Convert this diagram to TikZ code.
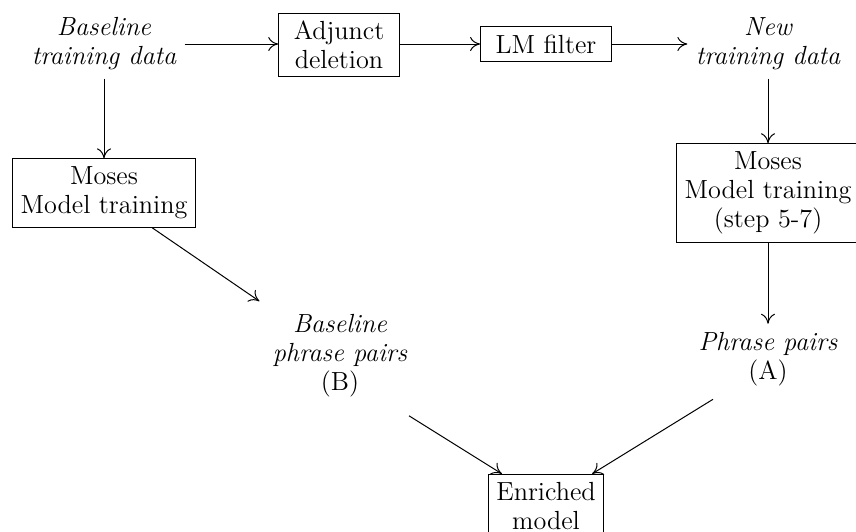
\documentclass[tikz,border=0pt]{standalone}
\usetikzlibrary{calc,arrows.meta}
\begin{document}
\begin{tikzpicture}[x=0.5pt,y=-0.5pt,
  every node/.style={font=\fontsize{13.1}{14.5}\selectfont, align=center, inner sep=4pt},
  boxed/.style={draw, line width=0.5pt},
  wide/.style={inner xsep=7.5pt},
  lbl/.style={font=\fontsize{13.1}{14.5}\selectfont\itshape},
  conn/.style={-{Computer Modern Rightarrow[length=5pt,width=7pt]}, line width=0.5pt}]
\useasboundingbox (0,0) rectangle (856,531);
\node[lbl] (btd) at (104,44) {Baseline\\training data};
\node[boxed,wide] (adj) at (339,45) {Adjunct\\deletion};
\node[boxed,wide] (lmf) at (546,44) {LM filter};
\node[lbl] (ntd) at (768,44) {New\\training data};
\node[boxed] (mosL) at (104,193) {Moses\\Model training};
\node[boxed] (mosR) at (768,193) {Moses\\Model training\\(step 5-7)};
\node (bpp) at (340,356) {\itshape Baseline\\\itshape phrase pairs\\(B)};
\node (ppa) at (768,359) {\itshape Phrase pairs\\(A)};
\node[boxed] (enr) at (546,506) {Enriched\\model};
\draw[conn] (btd.east) -- (adj.west |- btd.east);
\draw[conn] (adj.east |- lmf.west) -- (lmf.west);
\draw[conn] (lmf.east) -- (ntd.west);
\draw[conn] (btd.south) -- (mosL.north);
\draw[conn] (ntd.south) -- (mosR.north);
\draw[conn] (mosR.south) -- (ppa.north);
\draw[conn] ($(mosL.south)+(48,0)$) -- ($(bpp.north west)+(-5,-5)$);
\draw[conn] ($(bpp.south)+(69,10)$) -- ($(enr.north west)+(14,0)$);
\draw[conn] ($(ppa.south)+(-55,5)$) -- ($(enr.north east)+(-12,0)$);
\end{tikzpicture}
\end{document}
